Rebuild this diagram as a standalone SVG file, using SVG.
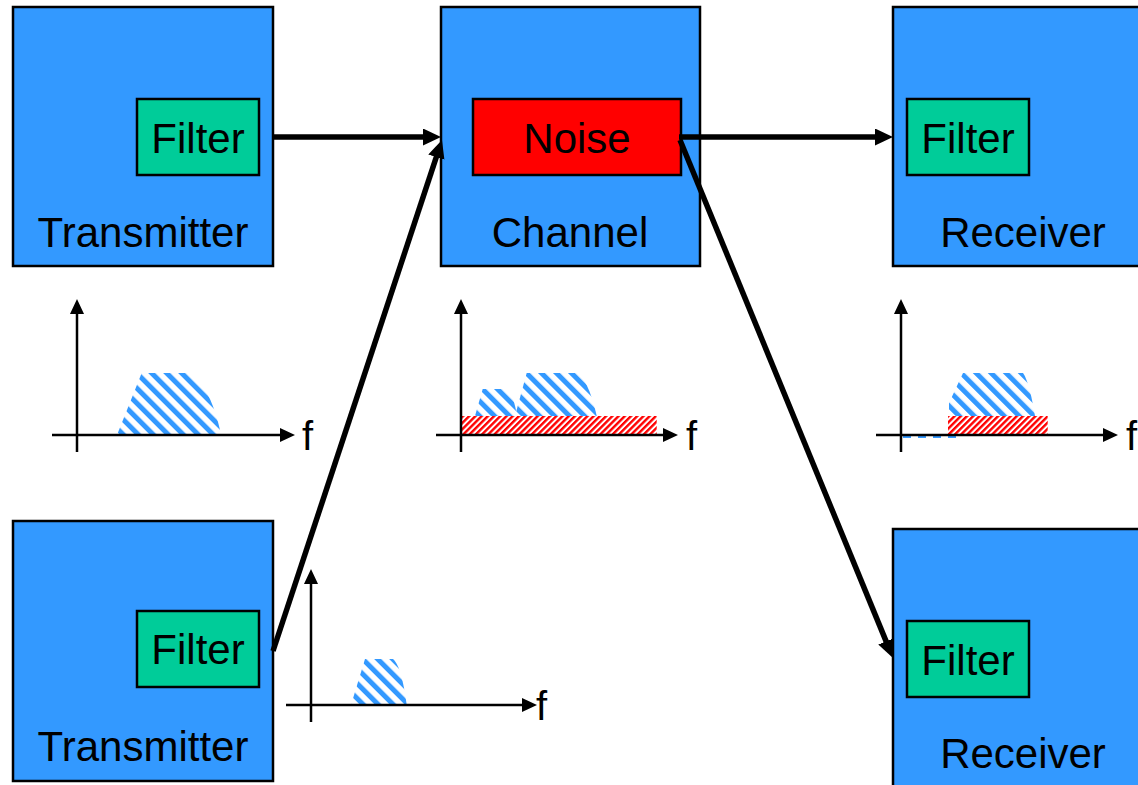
<svg xmlns="http://www.w3.org/2000/svg" width="1138" height="785" viewBox="0 0 1138 785">
<style>
.box{fill:#3399FF;stroke:#000;stroke-width:2.5}
.flt{fill:#00CC99;stroke:#000;stroke-width:2.5}
.noise{fill:#FF0000;stroke:#000;stroke-width:2.5}
.lbl{font-family:"Liberation Sans",Arial,sans-serif;font-size:42px;fill:#000;text-anchor:middle}
.f{font-family:"Liberation Sans",Arial,sans-serif;font-size:40px;fill:#000}
.conn{stroke:#000;stroke-width:5.5;fill:none;marker-end:url(#ah)}
.axis{stroke:#000;stroke-width:2.5;fill:none}
.axa{marker-end:url(#ax)}
.blue{fill:url(#bs)}
.red{fill:url(#rs)}
</style>
<defs>
<marker id="ah" markerUnits="userSpaceOnUse" markerWidth="20" markerHeight="20" refX="6" refY="8.5" orient="auto" viewBox="0 0 20 20">
<path d="M0,0 L18,8.5 L0,17 Z" fill="#000"/>
</marker>
<marker id="ax" markerUnits="userSpaceOnUse" markerWidth="18" markerHeight="18" refX="5" refY="7" orient="auto" viewBox="0 0 18 18">
<path d="M0,0 L15,7 L0,14 Z" fill="#000"/>
</marker>
<pattern id="bs" patternUnits="userSpaceOnUse" width="10.6" height="10.6" patternTransform="rotate(-45)">
<rect width="10.6" height="10.6" fill="#fff"/>
<rect width="5" height="10.6" fill="#3399FF"/>
</pattern>
<pattern id="rs" patternUnits="userSpaceOnUse" width="4.4" height="4.4" patternTransform="rotate(45)">
<rect width="4.4" height="4.4" fill="#fff"/>
<rect width="2.4" height="4.4" fill="#FF0000"/>
</pattern>
</defs>

<g id="tx1">
<rect class="box" x="13" y="7" width="260" height="259"/>
<rect class="flt" x="137" y="99" width="122" height="76"/>
<text class="lbl" x="198" y="153">Filter</text>
<text class="lbl" x="143" y="247">Transmitter</text>
</g>
<g id="channel">
<rect class="box" x="441" y="7" width="259" height="259"/>
<rect class="noise" x="473" y="99" width="208" height="76"/>
<text class="lbl" x="577" y="153">Noise</text>
<text class="lbl" x="570" y="247">Channel</text>
</g>
<g id="rx1">
<rect class="box" x="893" y="7" width="260" height="259"/>
<rect class="flt" x="907" y="99" width="122" height="76"/>
<text class="lbl" x="968" y="153">Filter</text>
<text class="lbl" x="1023" y="247">Receiver</text>
</g>
<g id="tx2">
<rect class="box" x="13" y="521" width="260" height="260"/>
<rect class="flt" x="137" y="611" width="122" height="76"/>
<text class="lbl" x="198" y="664">Filter</text>
<text class="lbl" x="143" y="761">Transmitter</text>
</g>
<g id="rx2">
<rect class="box" x="893" y="529" width="260" height="270"/>
<rect class="flt" x="907" y="621" width="122" height="76"/>
<text class="lbl" x="968" y="675">Filter</text>
<text class="lbl" x="1023" y="768">Receiver</text>
</g>

<g id="spectrum1">
<path class="blue" d="M117,435 L141.7,373 L187,373 C200,375 214,400 221,435 Z"/>
<line class="axis axa" x1="77" y1="452" x2="77" y2="309"/>
<line class="axis axa" x1="52" y1="435" x2="285" y2="435"/>
<text class="f" x="302" y="450">f</text>
</g>
<g id="spectrum2">
<path class="blue" d="M475,416 L482.7,389 L508,389 C512,393 515,404 517,416 Z"/>
<path class="blue" d="M515,416 L526.7,373 L576.7,373 C585,377 592,395 596.7,416 Z"/>
<rect class="red" x="461" y="416" width="195.7" height="19"/>
<line class="axis axa" x1="461" y1="452" x2="461" y2="309"/>
<line class="axis axa" x1="436" y1="435" x2="668" y2="435"/>
<text class="f" x="686" y="450">f</text>
</g>
<g id="spectrum3">
<path class="blue" d="M949,416 L949,403 L963,373 L1023,373 C1028,380 1032,398 1035,416 Z"/>
<line x1="903" y1="437" x2="958" y2="437" stroke="#3399FF" stroke-width="2" stroke-dasharray="8,7"/>
<rect class="red" x="948" y="416" width="99.7" height="19"/>
<line class="axis axa" x1="901" y1="452" x2="901" y2="309"/>
<line class="axis axa" x1="876" y1="435" x2="1108" y2="435"/>
<text class="f" x="1126" y="450">f</text>
</g>
<g id="spectrum4">
<path class="blue" d="M351,705 L365,659 L393,659 C400,665 404,685 406.7,705 Z"/>
<line class="axis axa" x1="311" y1="722" x2="311" y2="579"/>
<line class="axis axa" x1="286" y1="705" x2="527" y2="705"/>
<text class="f" x="536" y="720">f</text>
</g>

<g id="connectors">
<line class="conn" x1="273" y1="137" x2="429" y2="137"/>
<line class="conn" x1="273" y1="651" x2="438.2" y2="151.4"/>
<line class="conn" x1="679" y1="137" x2="881" y2="137"/>
<line class="conn" x1="680" y1="140" x2="888.4" y2="646.9"/>
</g>
</svg>
